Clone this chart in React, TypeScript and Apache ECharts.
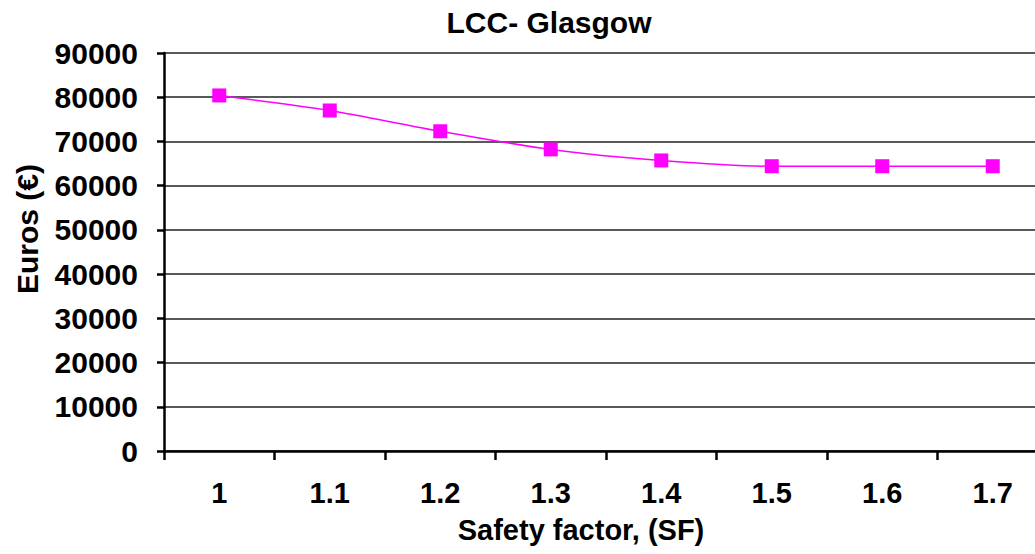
import React, { useEffect, useRef } from "react";
import * as echarts from "echarts";

const categories = ["1", "1.1", "1.2", "1.3", "1.4", "1.5", "1.6", "1.7"];
const lccValues = [80400, 77000, 72300, 68200, 65700, 64400, 64400, 64400];
const yTicks = { min: 0, max: 90000, interval: 10000 };
const titleText = "LCC- Glasgow";
const xName = "Safety factor, (SF)";
const yName = "Euros (€)";

export default function App() {
  const ref = useRef<HTMLDivElement>(null);
  useEffect(() => {
    if (!ref.current) return;
    const chart = echarts.init(ref.current, null, { renderer: "svg" });
    const font = "Liberation Sans, Arial, sans-serif";
    chart.setOption({
      animation: false,
      backgroundColor: "#ffffff",
      grid: { left: 164, top: 53, width: 884, height: 398, containLabel: false },
      graphic: [
        {
          type: "text",
          x: 549,
          y: 22,
          style: {
            text: titleText,
            font: `bold 30px ${font}`,
            fill: "#000",
            textAlign: "center",
            textVerticalAlign: "middle",
          },
        },
        {
          type: "text",
          x: 581,
          y: 530,
          style: {
            text: xName,
            font: `bold 29px ${font}`,
            fill: "#000",
            textAlign: "center",
            textVerticalAlign: "middle",
          },
        },
        {
          type: "text",
          x: 27,
          y: 229,
          rotation: Math.PI / 2,
          style: {
            text: yName,
            font: `bold 30px ${font}`,
            fill: "#000",
            textAlign: "center",
            textVerticalAlign: "middle",
          },
        },
      ],
      xAxis: {
        type: "category",
        data: categories,
        boundaryGap: true,
        axisLine: { show: true, lineStyle: { color: "#000", width: 2.5 } },
        axisTick: { show: true, length: 9, inside: false, lineStyle: { color: "#000", width: 2.5 } },
        axisLabel: {
          color: "#000",
          fontSize: 29,
          fontWeight: "bold",
          fontFamily: font,
          margin: 27,
        },
        splitLine: { show: false },
      },
      yAxis: {
        type: "value",
        min: yTicks.min,
        max: yTicks.max,
        interval: yTicks.interval,
        axisLine: { show: true, lineStyle: { color: "#000", width: 2.5 } },
        axisTick: { show: true, length: 7, lineStyle: { color: "#000", width: 2.5 } },
        axisLabel: {
          color: "#000",
          fontSize: 30,
          fontWeight: "bold",
          fontFamily: font,
          margin: 26,
          formatter: (v: number) => String(v),
        },
        splitLine: { show: true, lineStyle: { color: "#222", width: 1.5 } },
      },
      series: [
        {
          type: "line",
          data: lccValues,
          smooth: 0.25,
          symbol: "rect",
          symbolSize: 14,
          itemStyle: { color: "#ff00ff" },
          lineStyle: { color: "#ff00ff", width: 1.5 },
        },
      ],
    });
    return () => chart.dispose();
  }, []);
  return (
    <div
      style={{
        position: "absolute",
        left: 0,
        top: 0,
        width: 1035,
        height: 554,
        overflow: "hidden",
        background: "#fff",
      }}
    >
      <div ref={ref} style={{ width: 1060, height: 554 }} />
    </div>
  );
}
